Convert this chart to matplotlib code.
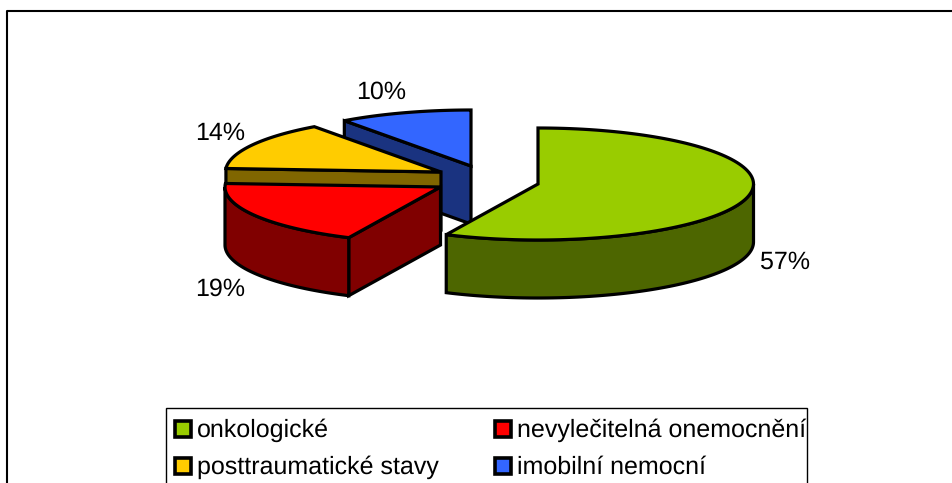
import numpy as np
import matplotlib
matplotlib.use("Agg")
import matplotlib.pyplot as plt
from matplotlib.patches import Polygon, Rectangle

plt.rcParams['font.family'] = ['Liberation Sans', 'DejaVu Sans']
plt.rcParams['text.hinting'] = 'none'
plt.rcParams['text.hinting_factor'] = 1

categories = ['onkologické', 'nevylečitelná onemocnění',
              'posttraumatické stavy', 'imobilní nemocní']
values = [57, 19, 14, 10]
tops = ['#99cc00', '#ff0000', '#ffcc00', '#3366ff']
sides = ['#4d6600', '#800000', '#806600', '#1a3380']

# each exploded slice has its own centre on the canvas, in pixels
centres = [(538, 184), (440.5, 187), (441, 172), (471, 166)]
label_pos = [(785, 262), (220, 289), (220, 133), (381, 92)]
RX, RY, DEPTH = 215.5, 56, 58

def arc(cx, cy, a0, a1):
    # angles run clockwise from twelve o'clock on a flattened circle
    t = np.radians(np.linspace(a0, a1, 120))
    return np.column_stack([cx + RX * np.sin(t), cy - RY * np.cos(t)])

def shape(pts, color):
    ax.add_patch(Polygon(pts, closed=True, facecolor=color, edgecolor='black',
                         linewidth=2.3, joinstyle='miter'))

fig = plt.figure(figsize=(9.53, 4.83), dpi=100)
ax = fig.add_axes([0, 0, 1, 1])
ax.set_xlim(0, 953)
ax.set_ylim(483, 0)
ax.axis('off')

# chart frame, cut off by the lower and right edges
ax.plot([7, 7, 953], [483, 11, 11], color='black', lw=1.5)

# start angle of every slice
starts = np.concatenate([[0], np.cumsum(values)[:-1]]) * 3.6
ends = starts + np.array(values) * 3.6

# back to front: blue, yellow, red, green
for i in [3, 2, 1, 0]:
    cx, cy = centres[i]
    a0, a1 = starts[i], ends[i]
    down = np.array([0, DEPTH])
    # cut face on the near side of the slice
    if i != 0:
        p = arc(cx, cy, a0, a0)[0]
        c = np.array([cx, cy])
        shape([p, c, c + down, p + down], sides[i])
    # outer wall, only the part that faces the viewer
    lo, hi = max(a0, 90), min(a1, 270)
    if lo < hi:
        rim = arc(cx, cy, lo, hi)
        shape(np.vstack([rim, rim[::-1] + down]), sides[i])
    # top surface
    shape(np.vstack([[cx, cy], arc(cx, cy, a0, a1)]), tops[i])

for pos, v in zip(label_pos, values):
    ax.text(pos[0], pos[1], '%d%%' % v, fontsize=18, ha='center', va='center', color='black')

# legend box runs past the lower edge
ax.add_patch(Rectangle((166, 408), 641, 90, facecolor='white', edgecolor='black', lw=1.0))
leg_x = [175, 495]
leg_y = [429, 466]
leg_order = [(0, 0), (1, 0), (0, 1), (1, 1)]
for i, (col, row) in enumerate(leg_order):
    ax.add_patch(Rectangle((leg_x[col], leg_y[row] - 8), 16, 16, facecolor=tops[i],
                           edgecolor='black', lw=2.6))
    ax.text(leg_x[col] + 22, leg_y[row] + 1, categories[i], fontsize=17.9, ha='left',
            va='center', color='black')

fig.savefig('out.png', dpi=100)
